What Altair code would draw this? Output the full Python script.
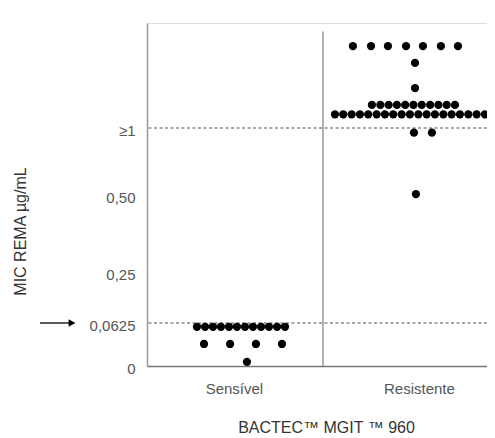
import altair as alt
import pandas as pd

# ---- data ----
groups = ["Sensível", "Resistente"]
tick_values = [0, 0.0625, 0.25, 0.5, 1]
tick_labels = ["0", "0,0625", "0,25", "0,50", "≥1"]
cut_lines = [0.0625, 1]

# MIC values (y) and horizontal swarm positions (x, group axis units)
sens_y = [0.057] * 12 + [0.032] * 4 + [0.006]
sens_x = [0.284, 0.330, 0.375, 0.420, 0.466, 0.511, 0.557, 0.602, 0.648, 0.693, 0.739, 0.784,
          0.324, 0.472, 0.619, 0.767,
          0.568]

res_y = ([1.78] * 7 + [1.62] + [1.38] + [1.22] * 11 + [1.13] * 19 + [0.965] * 2 + [0.507])
res_x = ([1.170, 1.273, 1.369, 1.472, 1.568, 1.670, 1.767]
         + [1.523] + [1.523]
         + [1.278, 1.326, 1.373, 1.420, 1.467, 1.514, 1.561, 1.609, 1.656, 1.703, 1.750]
         + [1.068, 1.115, 1.163, 1.210, 1.257, 1.305, 1.352, 1.399, 1.447, 1.494, 1.542,
            1.589, 1.636, 1.684, 1.731, 1.778, 1.826, 1.873, 1.920]
         + [1.517, 1.619]
         + [1.528])

df = pd.DataFrame({
    "x": sens_x + res_x,
    "y": sens_y + res_y,
    "grupo": [groups[0]] * len(sens_x) + [groups[1]] * len(res_x),
})

W, H = 340, 343
label_map = "{" + ",".join(f"'{v}':'{l}'" for v, l in zip(tick_values, tick_labels)) + "}"

xscale = alt.Scale(domain=[0, 1.932], nice=False, zero=False)
yscale = alt.Scale(domain=[0, 0.0625, 0.25, 0.5, 1, 2], range=[343, 300, 249, 172, 105, 0], nice=False, zero=False)

font = "Liberation Sans"

x_axis = alt.Axis(
    values=[0.494, 1.545],
    labelExpr="datum.value < 1 ? 'Sensível' : 'Resistente'",
    title="BACTEC™ MGIT ™ 960",
    titleX=179, titleY=61, titleBaseline="middle", titleAlign="center",
    titleFontSize=16, titleFontWeight=500, titleColor="#333", titleFont=font,
    labelFont=font, labelFontSize=15, labelColor="#555", labelPadding=15,
    ticks=False, grid=False, domainColor="#777", domainWidth=1.5,
)
y_axis = alt.Axis(
    values=tick_values,
    labelExpr=f"{label_map}[toString(datum.value)]",
    title="MIC REMA µg/mL",
    titleX=-127, titleY=208, titleAngle=-90, titleBaseline="middle", titleAlign="center",
    titleFontSize=16, titleFontWeight="normal", titleColor="#333", titleFont=font,
    labelFont=font, labelFontSize=15, labelColor="#555", labelPadding=12, labelOffset=2,
    ticks=False, grid=False, domainColor="#999", domainWidth=1.5,
)

points = alt.Chart(df).mark_circle(size=68, color="black", opacity=1).encode(
    x=alt.X("x:Q", scale=xscale, axis=x_axis),
    y=alt.Y("y:Q", scale=yscale, axis=y_axis),
)

lines = alt.Chart(pd.DataFrame({"y": cut_lines})).mark_rule(
    color="#8a8a8a", strokeDash=[3, 2.5], strokeWidth=1.5
).encode(y=alt.Y("y:Q", scale=yscale))

divider = alt.Chart(pd.DataFrame({"x": [1], "y": [1.92], "y2": [0]})).mark_rule(
    color="#999", strokeWidth=1.5
).encode(x=alt.X("x:Q", scale=xscale), y=alt.Y("y:Q", scale=yscale), y2="y2:Q")

arrow_line = alt.Chart(pd.DataFrame({"y": [0.0625]})).mark_rule(
    color="black", strokeWidth=1.3
).encode(x=alt.value(-107), x2=alt.value(-78), y=alt.Y("y:Q", scale=yscale))

arrow_head = alt.Chart(pd.DataFrame({"y": [0.0625]})).mark_point(
    shape="triangle-right", filled=True, color="black", size=60, opacity=1
).encode(x=alt.value(-75), y=alt.Y("y:Q", scale=yscale))

chart = alt.layer(lines, divider, arrow_line, arrow_head, points).properties(
    width=W, height=H,
    autosize=alt.AutoSizeParams(type="none"),
    padding={"left": 139, "top": 15, "right": 0, "bottom": 72},
).configure_view(stroke=None).configure(background="white")

chart.save("out.html", embed_options={"renderer": "svg", "actions": False})
